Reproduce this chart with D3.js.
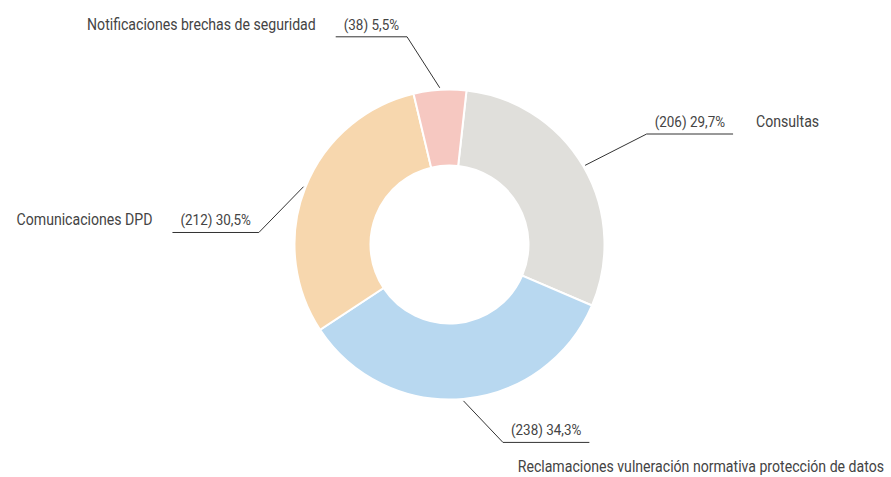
<!DOCTYPE html>
<html>
<head>
<meta charset="utf-8">
<script src="https://cdn.jsdelivr.net/npm/d3@7"></script>
<style>
  html, body { margin: 0; padding: 0; background: #fff; }
  #chart { width: 891px; height: 477px; }
  text { font-family: Roboto, "Liberation Sans", sans-serif; fill: #444; }
</style>
</head>
<body>
<div id="chart"></div>
<script>
// chart data
const categories = ["Consultas", "Reclamaciones vulneración normativa protección de datos", "Comunicaciones DPD", "Notificaciones brechas de seguridad"];
const counts = [206, 238, 212, 38];
const percentLabels = ["29,7%", "34,3%", "30,5%", "5,5%"];
const colors = ["#e0dfdb", "#b8d8f0", "#f7d7ae", "#f6c8c1"];

// leader line elbows, relative to each slice's mid angle (degrees, radius)
const elbowTurn = [1, -10, -18, -8];
const elbowRadius = [226, 205, 191, 212];

document.addEventListener("DOMContentLoaded", () => {
    const width = 891, height = 477;
    const cx = 449.5, cy = 244.5;
    const outerR = 155, innerR = 79;

    const svg = d3.select("#chart").append("svg")
        .attr("width", width)
        .attr("height", height);

    const data = categories.map((c, i) => ({ name: c, value: counts[i], pct: percentLabels[i], color: colors[i], i: i }));

    // pie starts a little right of 12 o'clock
    const startA = 6.3 * Math.PI / 180;
    const pie = d3.pie().value(d => d.value).sort(null)
        .startAngle(startA).endAngle(startA + 2 * Math.PI);
    const arcs = pie(data);

    const arc = d3.arc().innerRadius(innerR).outerRadius(outerR);

    const g = svg.append("g").attr("transform", `translate(${cx},${cy})`);

    g.selectAll("path.slice")
        .data(arcs)
        .enter()
        .append("path")
        .attr("class", "slice")
        .attr("d", arc)
        .attr("fill", d => d.data.color)
        .attr("stroke", "#fff")
        .attr("stroke-width", 2);

    // polar helper, angle measured clockwise from top
    const pt = (a, r) => [r * Math.sin(a), -r * Math.cos(a)];

    // text squeezed horizontally to look like a condensed face
    function label(str, size, k) {
        const t = g.append("text")
            .attr("font-size", size)
            .text(str);
        const w = t.node().getComputedTextLength() * k;
        return {
            w: w,
            place(x, y, anchor) {
                t.attr("text-anchor", anchor)
                    .attr("transform", `translate(${x},${y}) scale(${k},1)`);
            }
        };
    }

    arcs.forEach(d => {
        const i = d.data.i;
        const mid = (d.startAngle + d.endAngle) / 2;
        const right = Math.sin(mid) >= 0;
        const p0 = pt(mid, outerR + 2);
        const p1 = pt(mid + elbowTurn[i] * Math.PI / 180, elbowRadius[i]);

        // value text first so the segment can fit it
        const val = label(`(${d.data.value}) ${d.data.pct}`, 14, 0.96);
        const segLen = val.w + 16;
        const p2 = [p1[0] + (right ? segLen : -segLen), p1[1]];

        g.append("polyline")
            .attr("points", [p0, p1, p2].map(p => p.join(",")).join(" "))
            .attr("fill", "none")
            .attr("stroke", "#333")
            .attr("stroke-width", 1);

        val.place((p1[0] + p2[0]) / 2, p1[1] - 7, "middle");

        // category name beside the line, or below it if it would not fit
        const name = label(d.data.name, 17, 0.83);
        if (right) {
            if (cx + p2[0] + 22 + name.w > width - 4) {
                name.place(width - 7 - cx, p1[1] + 30, "end");
            } else {
                name.place(p2[0] + 23, p1[1] - 7, "start");
            }
        } else {
            name.place(p2[0] - 20, p1[1] - 7, "end");
        }
    });
});
</script>
</body>
</html>
